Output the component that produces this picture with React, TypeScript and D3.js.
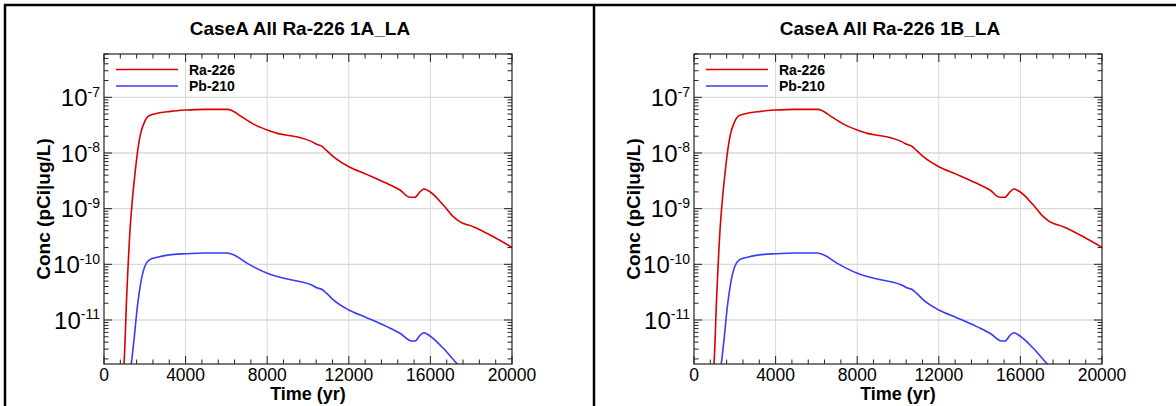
import React from "react";
import * as d3 from "d3";

const W = 1176;
const H = 406;

const panelTitles = ["CaseA All Ra-226 1A_LA", "CaseA All Ra-226 1B_LA"];
const seriesNames = ["Ra-226", "Pb-210"];
const seriesColors = ["#d90000", "#3a3aff"];

// Ra-226 (time in yr, conc)
const raTime = [940, 980, 1111, 1275, 1389, 1503, 1634, 1797, 1993, 2173, 2451, 3268, 4000, 4902, 6046, 6291, 6700, 7353, 8006, 8497, 9150, 9640, 10180, 10425, 10670, 10915, 11242, 12000, 12876, 13857, 14510, 15000, 15245, 15490, 15686, 15980, 16634, 17124, 17451, 18104, 19085, 20000];
const raConc = [1.3e-12, 1.67e-12, 2.6e-11, 4.1e-10, 1.43e-9, 3.75e-9, 9.86e-9, 2.25e-8, 3.65e-8, 4.6e-8, 5.0e-8, 5.6e-8, 5.9e-8, 6.08e-8, 6.08e-8, 5.75e-8, 4.6e-8, 3.27e-8, 2.59e-8, 2.25e-8, 2.04e-8, 1.88e-8, 1.6e-8, 1.43e-8, 1.33e-8, 1.1e-8, 8.6e-9, 5.67e-9, 4.13e-9, 2.85e-9, 2.16e-9, 1.6e-9, 1.6e-9, 2.01e-9, 2.25e-9, 2.01e-9, 1.16e-9, 7.2e-10, 5.8e-10, 4.74e-10, 3.13e-10, 2.02e-10];

// Pb-210
const pbTime = [1300, 1340, 1471, 1634, 1797, 1993, 2206, 2614, 3431, 4000, 4902, 6046, 6372, 7026, 8006, 8823, 9640, 10180, 10425, 10670, 10915, 11242, 12000, 12876, 13857, 14510, 15082, 15245, 15490, 15686, 15980, 16634, 17288, 17500];
const pbConc = [1.3e-12, 1.67e-12, 4.4e-12, 1.73e-11, 4.56e-11, 9.06e-11, 1.19e-10, 1.34e-10, 1.51e-10, 1.55e-10, 1.6e-10, 1.6e-10, 1.47e-10, 1.04e-10, 6.9e-11, 5.6e-11, 4.88e-11, 4.25e-11, 3.8e-11, 3.56e-11, 3.01e-11, 2.29e-11, 1.51e-11, 1.1e-11, 7.6e-12, 5.77e-12, 4.19e-12, 4.19e-12, 5.3e-12, 5.9e-12, 5.15e-12, 3.1e-12, 1.67e-12, 1.4e-12];

const xDomain = [0, 20000];
const yDomain = [1.62e-12, 6e-7];
const xMajorTicks = [0, 4000, 8000, 12000, 16000, 20000];
const xMinorStep = 800;
const yDecades = [-11, -10, -9, -8, -7];

const xAxisTitle = "Time (yr)";
const yAxisTitle = "Conc (pCi|ug/L)";

const FONT = "'Liberation Sans', Arial, Helvetica, sans-serif";

function Panel({ dx, title, id }: { dx: number; title: string; id: string }) {
  const x0 = 104 + dx;
  const x1 = 512 + dx;
  const yTop = 54;
  const yBot = 364;
  const x = d3.scaleLinear().domain(xDomain).range([x0, x1]);
  const y = d3.scaleLog().domain(yDomain).range([yBot, yTop]);

  const series = [
    raTime.map((t, i) => [t, raConc[i]] as [number, number]),
    pbTime.map((t, i) => [t, pbConc[i]] as [number, number]),
  ];
  const line = d3
    .line<[number, number]>()
    .x((d) => x(d[0]))
    .y((d) => y(d[1]))
    .curve(d3.curveMonotoneX);

  const xMinor = d3.range(xDomain[0], xDomain[1] + 1, xMinorStep).filter((v) => v % 4000 !== 0);
  const yMajor = yDecades.map((e) => Math.pow(10, e));
  const yMinor: number[] = [];
  for (let e = -12; e <= -7; e++) {
    for (let k = 2; k <= 9; k++) {
      const v = k * Math.pow(10, e);
      if (v >= yDomain[0] && v <= yDomain[1]) yMinor.push(v);
    }
  }

  const tickColor = "#222";
  const majLen = 8;
  const minLen = 4.5;

  return (
    <g>
      <defs>
        <clipPath id={id}>
          <rect x={x0} y={yTop} width={x1 - x0} height={yBot - yTop} />
        </clipPath>
      </defs>
      <text x={300 + dx} y={35} textAnchor="middle" fontFamily={FONT} fontWeight="bold" fontSize={19} fill="#000">
        {title}
      </text>
      {/* grid */}
      {xMajorTicks.filter((v) => v > xDomain[0] && v < xDomain[1]).map((v) => (
        <line key={"gx" + v} x1={x(v)} x2={x(v)} y1={yTop} y2={yBot} stroke="#d9d9d9" strokeWidth={1} />
      ))}
      {yMajor.map((v) => (
        <line key={"gy" + v} x1={x0} x2={x1} y1={y(v)} y2={y(v)} stroke="#d9d9d9" strokeWidth={1.3} />
      ))}
      {/* ticks */}
      {xMajorTicks.map((v) => (
        <g key={"tx" + v}>
          <line x1={x(v)} x2={x(v)} y1={yBot} y2={yBot - majLen} stroke={tickColor} strokeWidth={1} />
          <line x1={x(v)} x2={x(v)} y1={yTop} y2={yTop + majLen} stroke={tickColor} strokeWidth={1} />
        </g>
      ))}
      {xMinor.map((v) => (
        <g key={"tmx" + v}>
          <line x1={x(v)} x2={x(v)} y1={yBot} y2={yBot - minLen} stroke={tickColor} strokeWidth={1} />
          <line x1={x(v)} x2={x(v)} y1={yTop} y2={yTop + minLen} stroke={tickColor} strokeWidth={1} />
        </g>
      ))}
      {yMajor.map((v) => (
        <g key={"ty" + v}>
          <line x1={x0} x2={x0 + majLen} y1={y(v)} y2={y(v)} stroke={tickColor} strokeWidth={1} />
          <line x1={x1} x2={x1 - majLen} y1={y(v)} y2={y(v)} stroke={tickColor} strokeWidth={1} />
        </g>
      ))}
      {yMinor.map((v) => (
        <g key={"tmy" + v}>
          <line x1={x0} x2={x0 + minLen} y1={y(v)} y2={y(v)} stroke={tickColor} strokeWidth={1} />
          <line x1={x1} x2={x1 - minLen} y1={y(v)} y2={y(v)} stroke={tickColor} strokeWidth={1} />
        </g>
      ))}
      {/* curves */}
      <g clipPath={`url(#${id})`}>
        {series.map((s, i) => (
          <path key={"s" + i} d={line(s) || ""} fill="none" stroke={seriesColors[i]} strokeWidth={1.6} strokeLinejoin="round" />
        ))}
      </g>
      {/* frame */}
      <rect x={x0} y={yTop} width={x1 - x0} height={yBot - yTop} fill="none" stroke="#222" strokeWidth={1.2} />
      {/* legend */}
      {seriesNames.map((n, i) => (
        <g key={"lg" + n}>
          <line x1={x0 + 12} x2={x0 + 74} y1={69.5 + i * 16.5} y2={69.5 + i * 16.5} stroke={seriesColors[i]} strokeWidth={1.6} />
          <text x={x0 + 85} y={74.5 + i * 16.5} fontFamily={FONT} fontWeight="bold" fontSize={14} fill="#000">
            {n}
          </text>
        </g>
      ))}
      {/* x tick labels */}
      {xMajorTicks.map((v) => (
        <text key={"lx" + v} x={x(v)} y={381} textAnchor="middle" fontFamily={FONT} fontSize={17.5} fill="#000">
          {String(v)}
        </text>
      ))}
      {/* y tick labels */}
      {yDecades.map((e) => (
        <text key={"ly" + e} x={100} transform={`translate(${dx},0)`} y={y(Math.pow(10, e)) + 8.8} textAnchor="end" fontFamily={FONT} fill="#000">
          <tspan fontSize={24}>10</tspan>
          <tspan fontSize={14} dy={-9.5}>{String(e)}</tspan>
        </text>
      ))}
      {/* axis titles */}
      <text x={(x0 + x1) / 2} y={400} textAnchor="middle" fontFamily={FONT} fontWeight="bold" fontSize={18} fill="#000">
        {xAxisTitle}
      </text>
      <text transform={`translate(${50 + dx},${(yTop + yBot) / 2}) rotate(-90)`} textAnchor="middle" fontFamily={FONT} fontWeight="bold" fontSize={19} fill="#000">
        {yAxisTitle}
      </text>
    </g>
  );
}

export default function App() {
  return (
    <svg
      width={W}
      height={H}
      viewBox={`0 0 ${W} ${H}`}
      style={{ position: "absolute", left: 0, top: 0, background: "#fff" }}
    >
      <rect x={0} y={0} width={W} height={H} fill="#fff" />
      <line x1={4} x2={W} y1={5} y2={5} stroke="#000" strokeWidth={2.5} />
      <line x1={5} x2={5} y1={4} y2={H} stroke="#000" strokeWidth={2.5} />
      <line x1={594} x2={594} y1={4} y2={H} stroke="#000" strokeWidth={2.5} />
      <Panel dx={0} title={panelTitles[0]} id="clipA" />
      <Panel dx={590} title={panelTitles[1]} id="clipB" />
    </svg>
  );
}
